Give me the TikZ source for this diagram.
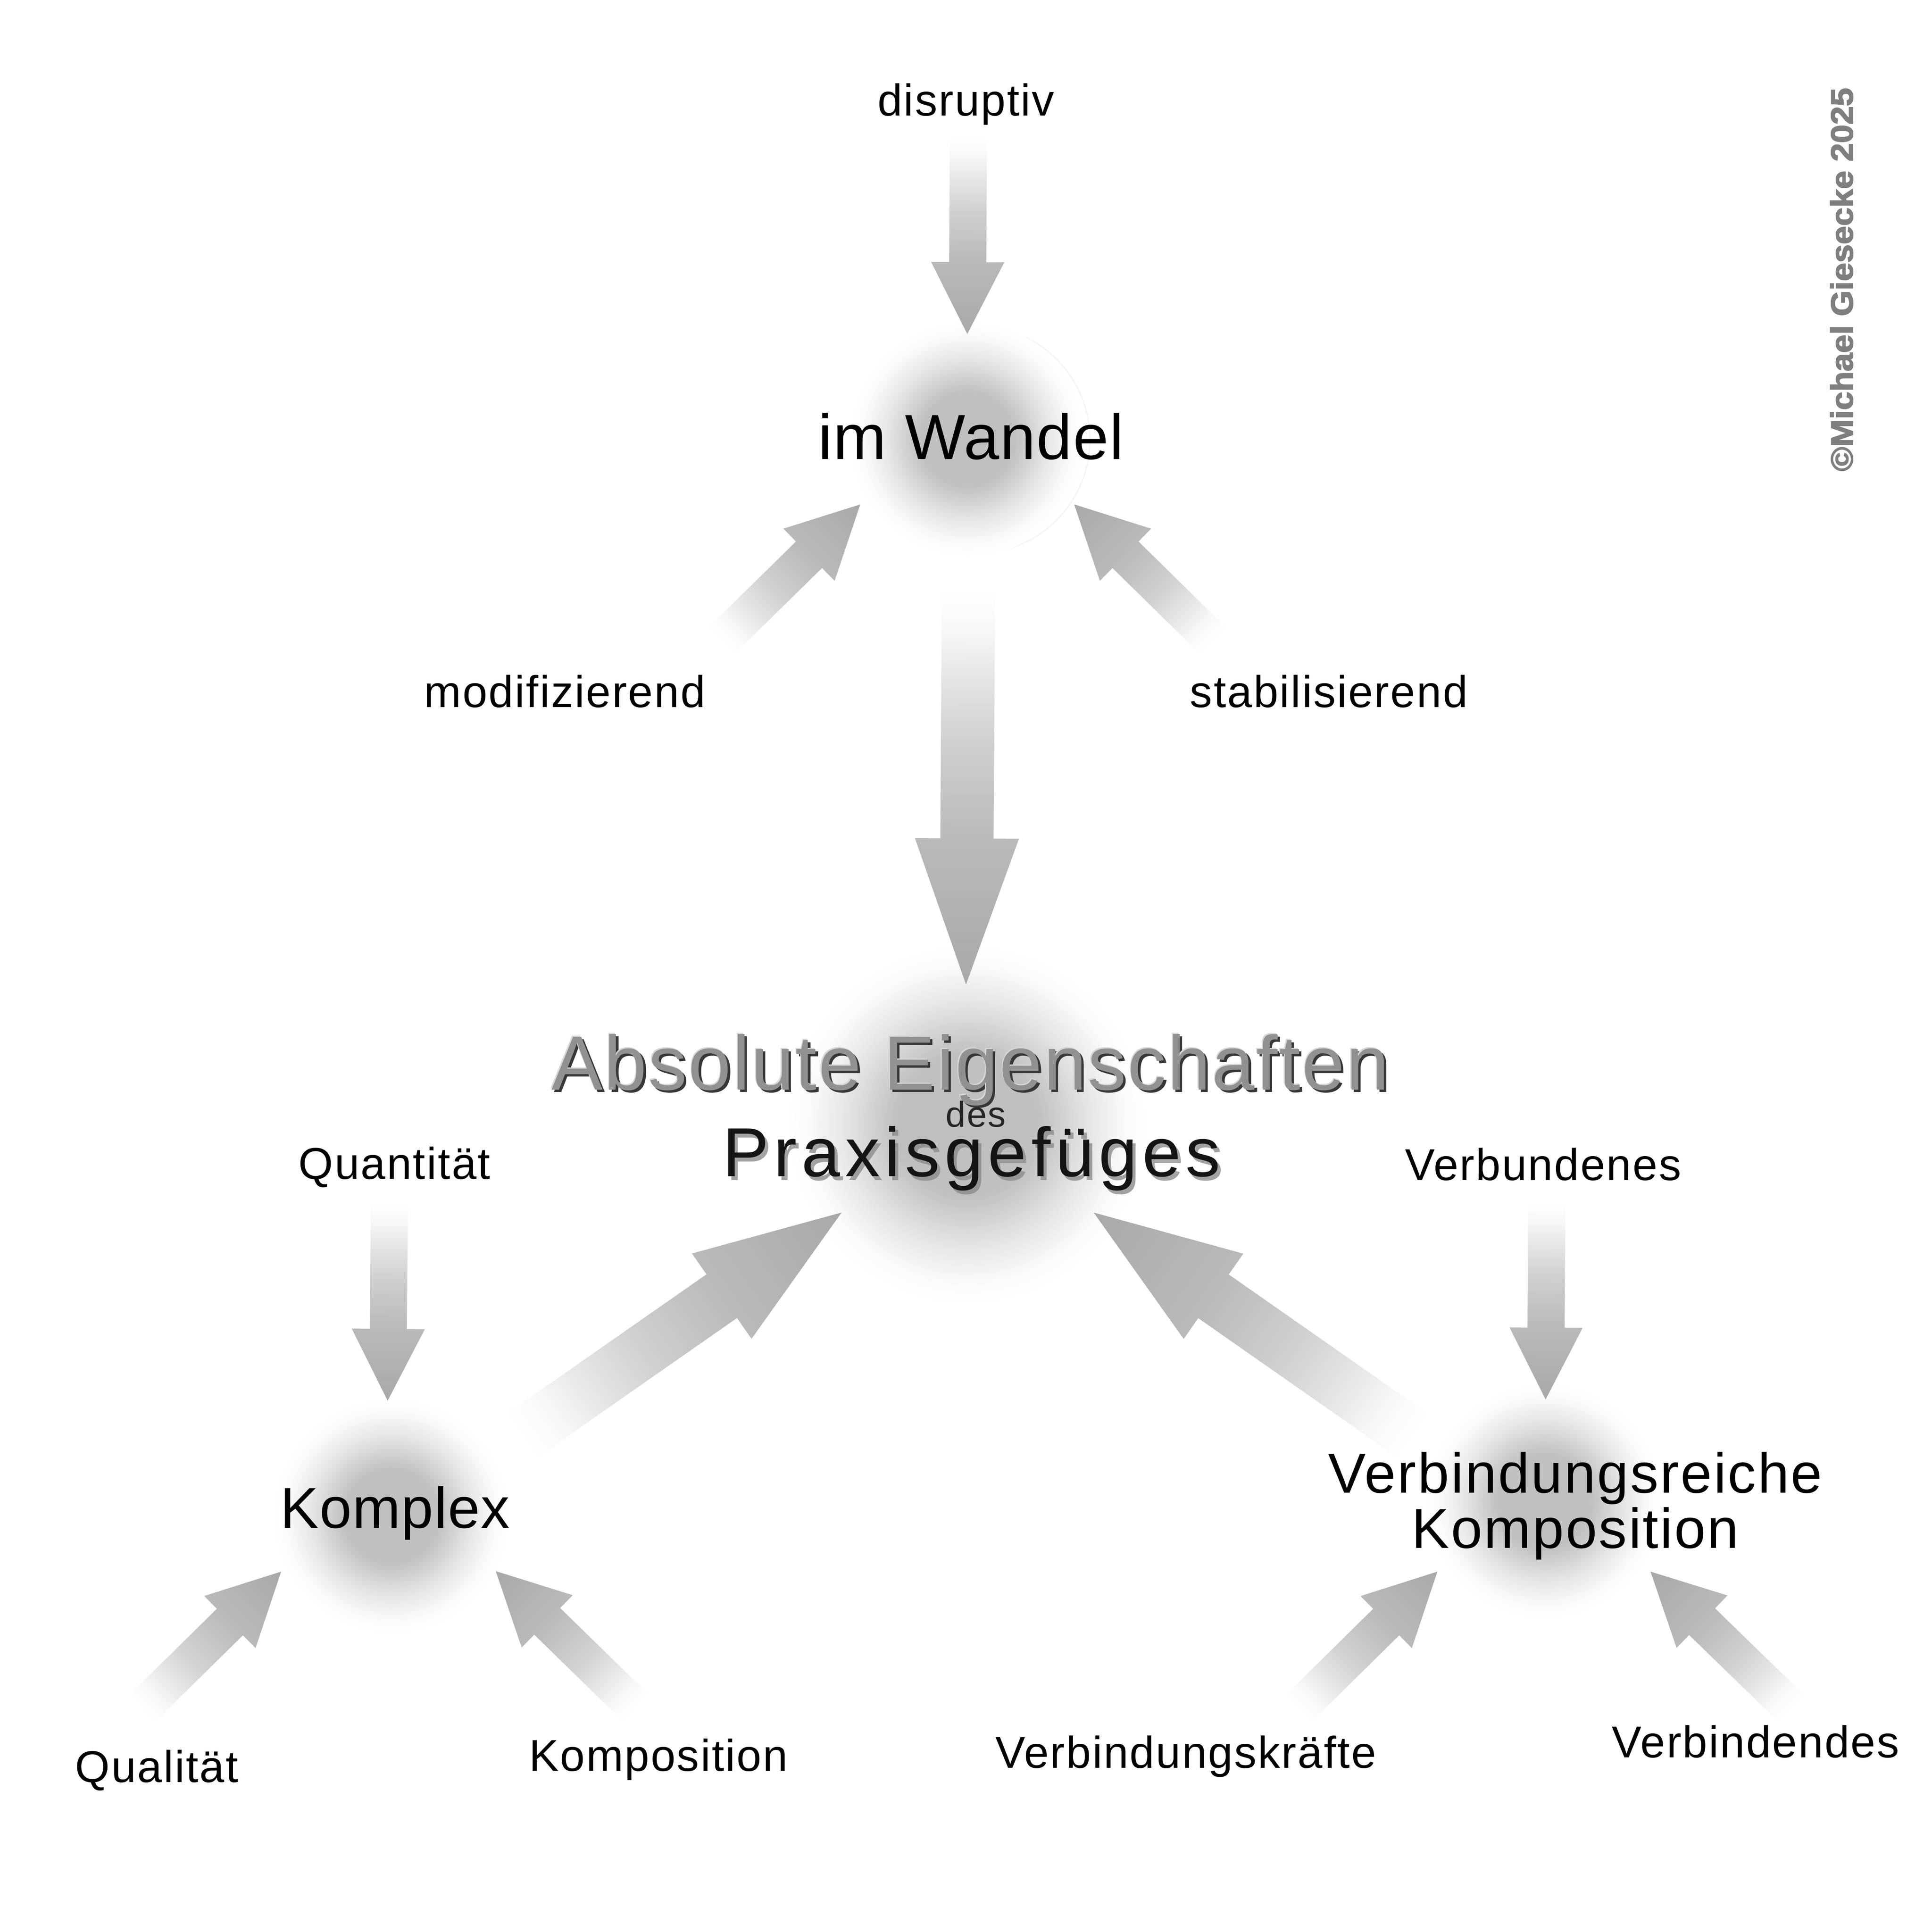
\documentclass[tikz,border=0pt]{standalone}
\usepackage{fontspec}
\usepackage{graphicx}
\usetikzlibrary{calc}
\setmainfont{Liberation Sans}
\newfontfamily\lblfont{Liberation Sans}[LetterSpace=3]
\newfontfamily\bigfont{Liberation Sans}[LetterSpace=1.5]
\newfontfamily\absfont{Liberation Sans}[LetterSpace=2]
\newfontfamily\praxfont{Liberation Sans}[LetterSpace=7]
\newfontfamily\cpyfont{Liberation Sans}[BoldFeatures={FakeBold=2.5}]
\newcommand\fsz[1]{\fontsize{#1mm}{#1mm}\selectfont}
\definecolor{cpy}{RGB}{127,127,127}
\definecolor{absbody}{RGB}{145,145,145}
\definecolor{absdark}{RGB}{55,55,55}
\definecolor{abslight}{RGB}{215,215,215}
\definecolor{ringc}{RGB}{242,242,242}
\pgfdeclarehorizontalshading{arrowshade}{100bp}{rgb(0bp)=(1,1,1); rgb(25bp)=(1,1,1); rgb(30bp)=(0.97,0.97,0.97); rgb(35bp)=(0.91,0.91,0.91); rgb(44bp)=(0.815,0.815,0.815); rgb(56bp)=(0.73,0.73,0.73); rgb(75bp)=(0.66,0.66,0.66); rgb(100bp)=(0.66,0.66,0.66)}
\pgfdeclareradialshading{glow}{\pgfpoint{0bp}{0bp}}{rgb(0bp)=(0.75,0.75,0.75); rgb(10bp)=(0.755,0.755,0.755); rgb(17bp)=(0.9,0.9,0.9); rgb(22bp)=(0.98,0.98,0.98); rgb(25bp)=(1,1,1); rgb(50bp)=(1,1,1)}
% #1 tail coordinate, #2 tip coordinate, #3 shaft half width, #4 head half width, #5 head length
\newcommand\blockarrow[5]{%
  \path let \p1=(#1), \p2=(#2) in \pgfextra{%
    \pgfmathsetmacro\baang{atan2((\y2)-(\y1),(\x2)-(\x1))}%
    \pgfmathsetmacro\balen{veclen((\x2)-(\x1),(\y2)-(\y1))}%
    \global\let\baang\baang \global\let\balen\balen};
  \begin{scope}[transform canvas={shift={(#1)},rotate=\baang}]
    \shade[shading=arrowshade] (0pt,-#3mm) -- ({\balen pt-#5mm},-#3mm) -- ({\balen pt-#5mm},-#4mm)
      -- (\balen pt,0pt) -- ({\balen pt-#5mm},#4mm) -- ({\balen pt-#5mm},#3mm) -- (0pt,#3mm) -- cycle;
  \end{scope}}
\begin{document}
\begin{tikzpicture}[x=1mm,y=-1mm,
  lbl/.style={inner sep=0pt, anchor=base, font={\lblfont\fsz{36}}},
  biglbl/.style={inner sep=0pt, anchor=base, font={\bigfont\fsz{47}}},
  ring/.style={draw=ringc, line width=0.8mm}]
\useasboundingbox (0,0) rectangle (1560,1560);
\fill[white] (0,0) rectangle (1560,1560);

% glows
\coordinate (gW) at (781,354.5);
\coordinate (gP) at (781,908);
\coordinate (gK) at (316,1224);
\coordinate (gV) at (1247,1212);
\draw[ring] (788,355) circle (92);
\draw[ring] (318,1222) circle (88);
\draw[ring] (1247,1214) circle (92);
\shade[shading=glow] (gW) circle (95);
\shade[shading=glow] (gP) circle (145);
\shade[shading=glow] (gK) circle (95);
\shade[shading=glow] (gV) circle (95);

% arrow end points
\coordinate (dT) at (782,110.6);   \coordinate (dH) at (781,269.7);
\coordinate (mT) at (582.6,517.3); \coordinate (mH) at (694.6,407.3);
\coordinate (sT) at (979.4,517.3); \coordinate (sH) at (867.4,407.3);
\coordinate (wT) at (782,477);     \coordinate (wH) at (780,795);
\coordinate (kT) at (421,1159.5);  \coordinate (kH) at (679.6,979);
\coordinate (vT) at (1141.5,1159.7); \coordinate (vH) at (883,979);
\coordinate (qnT) at (314.4,971.4); \coordinate (qnH) at (313,1131);
\coordinate (qlT) at (114.6,1379.6); \coordinate (qlH) at (227,1269);
\coordinate (kpT) at (513.4,1379); \coordinate (kpH) at (400.3,1268.6);
\coordinate (vbT) at (1249,971);   \coordinate (vbH) at (1248,1130);
\coordinate (vkT) at (1048,1380);  \coordinate (vkH) at (1160.6,1269);
\coordinate (vdT) at (1447,1380);  \coordinate (vdH) at (1332.7,1269);

\blockarrow{dT}{dH}{15}{29.5}{58}
\blockarrow{mT}{mH}{15}{29.5}{58}
\blockarrow{sT}{sH}{15}{29.5}{58}
\blockarrow{qnT}{qnH}{15}{29.5}{58}
\blockarrow{qlT}{qlH}{15}{29.5}{58}
\blockarrow{kpT}{kpH}{15}{29.5}{58}
\blockarrow{vbT}{vbH}{15}{29.5}{58}
\blockarrow{vkT}{vkH}{15}{29.5}{58}
\blockarrow{vdT}{vdH}{15}{29.5}{58}
\blockarrow{wT}{wH}{21.5}{42}{118}
\blockarrow{kT}{kH}{21.5}{42}{118}
\blockarrow{vT}{vH}{21.5}{42}{118}

% small labels
\node[lbl] (disr) at (780,93.6) {disruptiv};
\node[lbl] (modi) at (456,571) {modifizierend};
\node[lbl] (stab) at (1073,571) {stabilisierend};
\node[lbl] (quan) at (318.5,952) {Quantität};
\node[lbl] (verbu) at (1246,953) {Verbundenes};
\node[lbl] (qual) at (126.6,1439) {Qualität};
\node[lbl] (kompL) at (531.6,1430) {Komposition};
\node[lbl] (vkr) at (957.5,1427.5) {Verbindungskräfte};
\node[lbl] (vbd) at (1417.5,1419) {Verbindendes};

% main labels
\node[biglbl, font={\bigfont\fsz{51.5}}] (wan) at (784,370.8) {im Wandel};
\node[biglbl, font={\bigfont\fsz{46.5}}] (kom) at (319,1233.7) {Komplex};
\node[biglbl, font={\lblfont\fsz{45.5}}] (vr1) at (1272,1205.4) {Verbindungsreiche};
\node[biglbl, font={\lblfont\fsz{45.5}}] (vr2) at (1272,1250) {Komposition};

% central title
\node[inner sep=0pt, anchor=base, font={\absfont\fsz{62}}, text=absdark] (absS) at (785.5,882) {Absolute Eigenschaften};
\node[inner sep=0pt, anchor=base, font={\absfont\fsz{62}}, text=abslight] (absL) at (782.7,879.2) {Absolute Eigenschaften};
\node[inner sep=0pt, anchor=base, font={\absfont\fsz{62}}, text=absbody] (abs) at (783.5,880) {Absolute Eigenschaften};
\node[inner sep=0pt, anchor=base, font={\lblfont\fsz{29}}, text=black!85] (des) at (788,909.8) {des};
\node[inner sep=0pt, anchor=base, font={\praxfont\fsz{56}}, text=black!45, opacity=0.8] (praxS) at (787,953) {Praxisgefüges};
\node[inner sep=0pt, anchor=base, font={\praxfont\fsz{56}}, text=black!92] (prax) at (784.5,949.8) {Praxisgefüges};

% copyright
\node[inner sep=0pt, rotate=90, text=cpy, font={\cpyfont\bfseries\fsz{25}}] (copy) at (1487,225.7) {\scalebox{1.07}[1]{©Michael Giesecke 2025}};
\end{tikzpicture}
\end{document}
